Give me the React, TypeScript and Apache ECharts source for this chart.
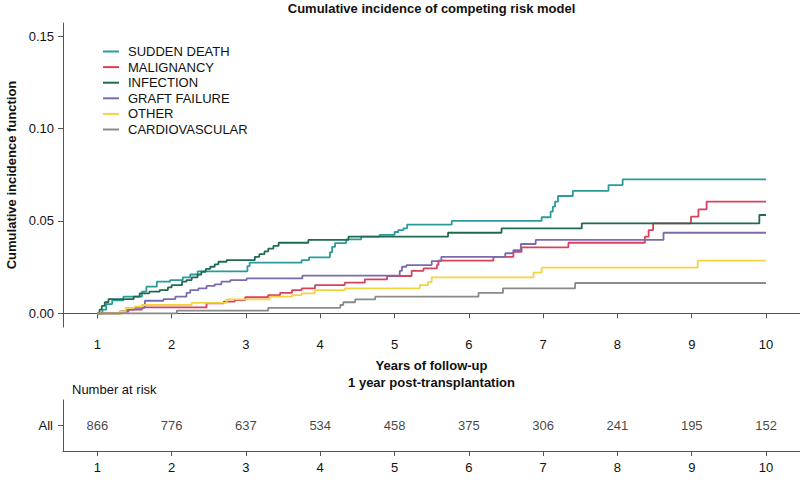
import React, { useEffect, useRef } from "react";
import * as echarts from "echarts";

const chartTitle = "Cumulative incidence of competing risk model";
const yTitle = "Cumulative incidence function";
const xTitle1 = "Years of follow-up";
const xTitle2 = "1 year post-transplantation";
const riskTitle = "Number at risk";

const years = [1, 2, 3, 4, 5, 6, 7, 8, 9, 10];
const yTicks = [0, 0.05, 0.1, 0.15];
const riskGroups = ["All"];
const atRisk = [866, 776, 637, 534, 458, 375, 306, 241, 195, 152];

const seriesNames = ["SUDDEN DEATH", "MALIGNANCY", "INFECTION", "GRAFT FAILURE", "OTHER", "CARDIOVASCULAR"];
const seriesColors = ["#2b9a9d", "#d9405e", "#1e6b52", "#7a6aae", "#f5d33f", "#8a8a8a"];

const suddenDeath: [number, number][] = [
  [1, 0], [1.07, 0.002], [1.12, 0.005], [1.2, 0.007], [1.35, 0.009], [1.6, 0.0117], [1.66, 0.0144],
  [1.8, 0.0171], [1.98, 0.018], [2.15, 0.0195], [2.25, 0.021], [2.35, 0.0227], [3.02, 0.0255],
  [3.05, 0.0274], [3.75, 0.0288], [3.85, 0.0303], [4.13, 0.033], [4.16, 0.036], [4.2, 0.038],
  [4.35, 0.04], [4.55, 0.0415], [4.8, 0.0425], [5.0, 0.044], [5.05, 0.045], [5.12, 0.046],
  [5.17, 0.048], [5.77, 0.05], [6.98, 0.052], [7.1, 0.055], [7.13, 0.0577], [7.16, 0.0604],
  [7.2, 0.0635], [7.4, 0.0663], [7.88, 0.0694], [8.07, 0.0725], [10, 0.0725],
];

const malignancy: [number, number][] = [
  [1, 0], [1.33, 0.001], [1.42, 0.002], [1.6, 0.0032], [2.47, 0.0054], [2.7, 0.0063], [2.85, 0.0072],
  [2.99, 0.0087], [3.3, 0.0099], [3.46, 0.0111], [3.62, 0.0126], [3.75, 0.0135], [3.93, 0.0153],
  [4.33, 0.0166], [4.6, 0.0184], [4.9, 0.0202], [5.23, 0.023], [5.39, 0.0243], [5.57, 0.0261],
  [5.59, 0.0285], [6.33, 0.0306], [6.6, 0.0333], [6.71, 0.0357], [7.34, 0.0382], [8.37, 0.0415],
  [8.42, 0.045], [8.48, 0.0487], [8.99, 0.0523], [9.09, 0.0563], [9.2, 0.0604], [10, 0.0604],
];

const infection: [number, number][] = [
  [1, 0], [1.03, 0.002], [1.06, 0.004], [1.1, 0.006], [1.15, 0.0077], [1.49, 0.009], [1.57, 0.0108],
  [1.7, 0.0117], [1.84, 0.0126], [1.95, 0.014], [2.0, 0.0153], [2.14, 0.0171], [2.2, 0.018],
  [2.27, 0.0195], [2.35, 0.021], [2.4, 0.0225], [2.46, 0.024], [2.52, 0.0252], [2.58, 0.0265],
  [2.63, 0.0279], [2.74, 0.0288], [3.12, 0.0306], [3.18, 0.032], [3.25, 0.0335], [3.3, 0.035],
  [3.37, 0.0365], [3.44, 0.0382], [3.84, 0.0397], [4.38, 0.0415], [5.72, 0.0436], [6.44, 0.046],
  [7.52, 0.0487], [9.91, 0.0532], [10, 0.0532],
];

const graftFailure: [number, number][] = [
  [1, 0], [1.3, 0.001], [1.4, 0.002], [1.5, 0.003], [1.64, 0.0068], [1.89, 0.0077], [2.05, 0.009],
  [2.2, 0.0111], [2.25, 0.0126], [2.36, 0.0135], [2.47, 0.0148], [2.58, 0.0157], [2.67, 0.0171],
  [2.79, 0.018], [3.01, 0.0189], [3.76, 0.0204], [5.07, 0.023], [5.1, 0.0252], [5.16, 0.0261],
  [5.5, 0.0283], [5.63, 0.0306], [6.49, 0.0325], [6.6, 0.0342], [6.7, 0.0375], [6.9, 0.0397],
  [8.62, 0.0436], [10, 0.0436],
];

const other: [number, number][] = [
  [1, 0], [1.3, 0.001], [1.38, 0.003], [1.5, 0.0036], [1.6, 0.0045], [2.27, 0.0057], [2.74, 0.0076],
  [3.32, 0.009], [3.62, 0.0099], [3.75, 0.0108], [3.93, 0.0126], [4.33, 0.0135], [5.34, 0.0153],
  [5.45, 0.017], [5.5, 0.0195], [6.87, 0.022], [6.98, 0.0247], [9.08, 0.0285], [10, 0.0285],
];

const cardiovascular: [number, number][] = [
  [1, 0], [2.07, 0.0015], [3.3, 0.003], [4.27, 0.0045], [4.31, 0.006], [4.47, 0.0075], [4.74, 0.009],
  [6.13, 0.0111], [6.46, 0.0135], [7.43, 0.0164], [10, 0.0164],
];

const seriesData = [suddenDeath, malignancy, infection, graftFailure, other, cardiovascular];

const FONT = "'Liberation Sans', Arial, Helvetica, sans-serif";
const AXIS_COLOR = "#555555";
const TEXT_COLOR = "#111111";
const X_MIN = 0.538;
const X_MAX = 10.457;

export default function App() {
  const ref = useRef<HTMLDivElement>(null);

  useEffect(() => {
    document.body.style.margin = "0";
    if (!ref.current) return;
    const chart = echarts.init(ref.current, null, { renderer: "svg" });

    const axisLine = { show: true, lineStyle: { color: AXIS_COLOR, width: 1 } };
    const axisTick = (vals: any[]) => ({
      show: true,
      length: 5,
      customValues: vals,
      lineStyle: { color: AXIS_COLOR, width: 1 },
    });

    const option: any = {
      animation: false,
      backgroundColor: "#ffffff",
      textStyle: { fontFamily: FONT },
      grid: [
        { left: 63, top: 23, width: 737, height: 304, containLabel: false, outerBoundsMode: "none" },
        { left: 63, top: 400, width: 737, height: 51, containLabel: false, outerBoundsMode: "none" },
      ],
      xAxis: [
        {
          type: "value",
          gridIndex: 0,
          min: X_MIN,
          max: X_MAX,
          axisLine,
          axisTick: axisTick(years),
          splitLine: { show: false },
          axisLabel: {
            customValues: years,
            fontSize: 13,
            color: TEXT_COLOR,
            fontFamily: FONT,
            margin: 11,
          },
        },
        {
          type: "value",
          gridIndex: 1,
          min: X_MIN,
          max: X_MAX,
          axisLine,
          axisTick: axisTick(years),
          splitLine: { show: false },
          axisLabel: {
            customValues: years,
            fontSize: 13,
            color: TEXT_COLOR,
            fontFamily: FONT,
            margin: 10,
          },
        },
      ],
      yAxis: [
        {
          type: "value",
          gridIndex: 0,
          min: -0.0074,
          max: 0.1571,
          axisLine,
          axisTick: axisTick(yTicks),
          splitLine: { show: false },
          axisLabel: {
            customValues: yTicks,
            formatter: (v: number) => v.toFixed(2),
            fontSize: 13,
            color: TEXT_COLOR,
            fontFamily: FONT,
            margin: 9,
          },
          name: yTitle,
          nameLocation: "middle",
          nameGap: 44,
          nameTextStyle: { fontSize: 13, fontWeight: "bold", color: TEXT_COLOR, fontFamily: FONT },
        },
        {
          type: "category",
          gridIndex: 1,
          data: riskGroups,
          axisLine,
          axisTick: { show: true, length: 5, alignWithLabel: true, lineStyle: { color: AXIS_COLOR } },
          axisLabel: { fontSize: 13, color: TEXT_COLOR, fontFamily: FONT, margin: 10 },
        },
      ],
      legend: {
        orient: "vertical",
        left: 103,
        top: 45,
        padding: 0,
        itemWidth: 16,
        itemHeight: 2,
        itemGap: 2.6,
        icon: "rect",
        data: seriesNames,
        textStyle: {
          fontSize: 13,
          lineHeight: 13,
          color: TEXT_COLOR,
          fontFamily: FONT,
          padding: [0, 0, 0, 4],
        },
      },
      graphic: [
        {
          type: "text",
          x: 431.5,
          y: 8,
          style: {
            text: chartTitle,
            fontSize: 13,
            fontWeight: "bold",
            fill: TEXT_COLOR,
            fontFamily: FONT,
            align: "center",
            verticalAlign: "middle",
          },
        },
        {
          type: "text",
          x: 431.5,
          y: 365,
          style: {
            text: xTitle1,
            fontSize: 13,
            fontWeight: "bold",
            fill: TEXT_COLOR,
            fontFamily: FONT,
            align: "center",
            verticalAlign: "middle",
          },
        },
        {
          type: "text",
          x: 431.5,
          y: 382,
          style: {
            text: xTitle2,
            fontSize: 13,
            fontWeight: "bold",
            fill: TEXT_COLOR,
            fontFamily: FONT,
            align: "center",
            verticalAlign: "middle",
          },
        },
        {
          type: "text",
          x: 72,
          y: 389,
          style: {
            text: riskTitle,
            fontSize: 13,
            fill: TEXT_COLOR,
            fontFamily: FONT,
            align: "left",
            verticalAlign: "middle",
          },
        },
      ],
      series: [
        ...seriesNames.map((name, i) => ({
          name,
          type: "line",
          step: "end",
          xAxisIndex: 0,
          yAxisIndex: 0,
          data: seriesData[i],
          symbol: "none",
          color: seriesColors[i],
          lineStyle: { color: seriesColors[i], width: 1.8 },
          silent: true,
        })),
        {
          name: "at risk",
          type: "scatter",
          xAxisIndex: 1,
          yAxisIndex: 1,
          symbolSize: 0,
          itemStyle: { color: TEXT_COLOR },
          data: years.map((y, i) => [y, riskGroups[0], atRisk[i]]),
          label: {
            show: true,
            position: "inside",
            formatter: (p: any) => String(p.value[2]),
            fontSize: 13,
            color: TEXT_COLOR,
            textBorderWidth: 0,
            fontFamily: FONT,
          },
          silent: true,
        },
      ],
    };

    chart.setOption(option);
    return () => chart.dispose();
  }, []);

  return <div ref={ref} style={{ width: 800, height: 480 }} />;
}
